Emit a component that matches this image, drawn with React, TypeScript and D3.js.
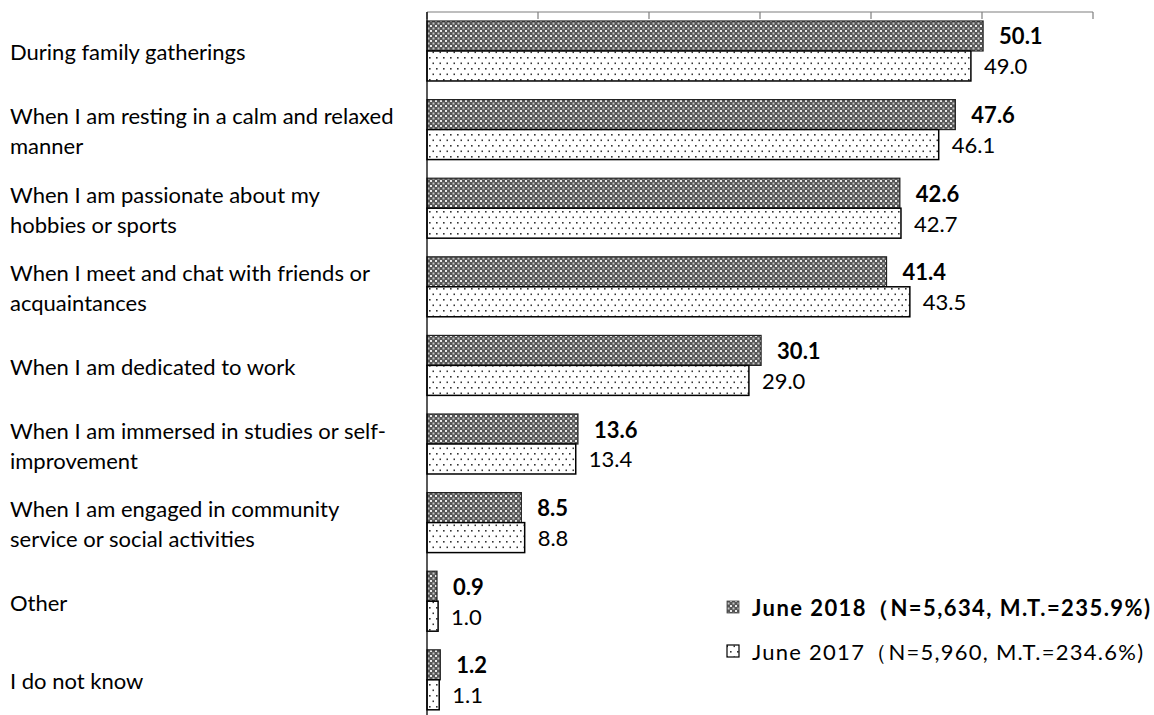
import React from "react";
import * as d3 from "d3";

const categories: string[][] = [
  ["During family gatherings"],
  ["When I am resting in a calm and relaxed", "manner"],
  ["When I am passionate about my", "hobbies or sports"],
  ["When I meet and chat with friends or", "acquaintances"],
  ["When I am dedicated to work"],
  ["When I am immersed in studies or self-", "improvement"],
  ["When I am engaged in community", "service or social activities"],
  ["Other"],
  ["I do not know"],
];
const values2018 = [50.1, 47.6, 42.6, 41.4, 30.1, 13.6, 8.5, 0.9, 1.2];
const values2017 = [49.0, 46.1, 42.7, 43.5, 29.0, 13.4, 8.8, 1.0, 1.1];
const seriesNames = [
  "June 2018（N=5,634, M.T.=235.9%)",
  "June 2017（N=5,960, M.T.=234.6%)",
];
const xTicks = [0, 10, 20, 30, 40, 50, 60];

const W = 1154;
const H = 715;
const FONT = "Lato, 'Noto Sans', sans-serif";
const FS = 22;

export default function App() {
  const x = d3.scaleLinear().domain([0, 60]).range([427, 1093]);
  const ids = categories.map((_, i) => String(i));
  const y = d3.scaleBand<string>().domain(ids).range([21, 709.8]).paddingInner(0.237);
  const bw = y.bandwidth();
  const bh = bw / 2;

  return (
    <svg width={W} height={H} style={{ display: "block", position: "absolute", left: 0, top: 0 }} fontFamily={FONT}>
      <defs>
        <pattern id="p2018" patternUnits="userSpaceOnUse" width={5} height={5}>
          <rect width={5} height={5} fill="#555" />
          <rect x={0} y={0} width={2} height={2} fill="#ececec" />
          <rect x={2.5} y={2.5} width={2} height={2} fill="#c4c4c4" />
        </pattern>
        <pattern id="p2017" patternUnits="userSpaceOnUse" width={7} height={11}>
          <rect width={7} height={11} fill="#ffffff" />
          <rect x={2} y={2} width={1.6} height={1.6} fill="#333" />
          <rect x={5.5} y={7.5} width={1.6} height={1.6} fill="#333" />
        </pattern>
      </defs>

      {/* top axis */}
      <line x1={x(0)} x2={x(60)} y1={12} y2={12} stroke="#7f7f7f" strokeWidth={1.2} />
      {xTicks.map((t) => (
        <line key={t} x1={x(t)} x2={x(t)} y1={12} y2={19} stroke="#7f7f7f" strokeWidth={1.2} />
      ))}

      {categories.map((lines, i) => {
        const y0 = y(String(i))!;
        const cy = y0 + bw / 2 + 1;
        return (
          <g key={i}>
            <rect x={x(0)} y={y0} width={x(values2018[i]) - x(0)} height={bh} fill="url(#p2018)" stroke="#222" strokeWidth={1.2} />
            <rect x={x(0)} y={y0 + bh} width={x(values2017[i]) - x(0)} height={bh} fill="url(#p2017)" stroke="#000" strokeWidth={1.5} />
            <text x={x(values2018[i]) + 16} y={y0 + bh / 2} dominantBaseline="central" fontSize={FS} fontWeight="bold" fill="#000">
              {values2018[i].toFixed(1)}
            </text>
            <text x={x(values2017[i]) + 13} y={y0 + bh * 1.5} dominantBaseline="central" fontSize={FS} fill="#000">
              {values2017[i].toFixed(1)}
            </text>
            {lines.map((l, j) => (
              <text key={j} x={10} y={cy + (j - (lines.length - 1) / 2) * 30} dominantBaseline="central" fontSize={FS} fill="#000">
                {l}
              </text>
            ))}
          </g>
        );
      })}

      {/* left axis */}
      <line x1={x(0)} x2={x(0)} y1={12} y2={715} stroke="#000" strokeWidth={1.3} />

      {/* legend */}
      <rect x={727} y={601} width={12} height={12} fill="url(#p2018)" stroke="#444" strokeWidth={0.8} />
      <text x={752} y={607} dominantBaseline="central" fontSize={FS} fontWeight="bold" textLength={398} lengthAdjust="spacing">{seriesNames[0]}</text>
      <rect x={727} y={645} width={12} height={12} fill="url(#p2017)" stroke="#000" strokeWidth={1.2} />
      <text x={752} y={651} dominantBaseline="central" fontSize={FS} textLength={391} lengthAdjust="spacing">{seriesNames[1]}</text>
    </svg>
  );
}
